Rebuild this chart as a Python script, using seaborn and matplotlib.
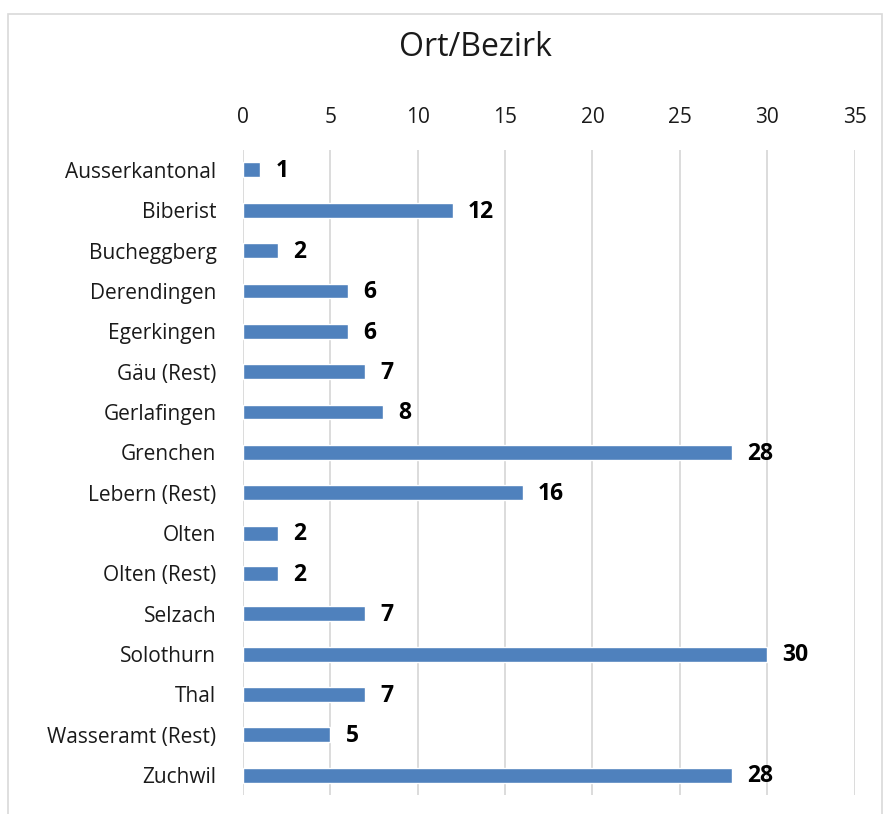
import matplotlib
matplotlib.use("Agg")
import matplotlib.pyplot as plt
import seaborn as sns
import pandas as pd

orte = ["Ausserkantonal", "Biberist", "Bucheggberg", "Derendingen", "Egerkingen",
        "Gäu (Rest)", "Gerlafingen", "Grenchen", "Lebern (Rest)", "Olten",
        "Olten (Rest)", "Selzach", "Solothurn", "Thal", "Wasseramt (Rest)", "Zuchwil"]
anzahl = [1, 12, 2, 6, 6, 7, 8, 28, 16, 2, 2, 7, 30, 7, 5, 28]
x_ticks = [0, 5, 10, 15, 20, 25, 30, 35]

df = pd.DataFrame({"ort": orte, "anzahl": anzahl})

sns.set_style("white")
plt.rcParams["font.family"] = ["Open Sans", "DejaVu Sans"]

fig = plt.figure(figsize=(8.83, 8.14), dpi=100)
ax = fig.add_axes([0.275, 0.023, 0.693, 0.793])

sns.barplot(data=df, x="anzahl", y="ort", color="#4F81BD", saturation=1,
            width=0.37, ax=ax)

ax.set_xlim(0, 35)
ax.set_xticks(x_ticks)
ax.xaxis.tick_top()
ax.tick_params(axis="both", length=0, labelsize=15, colors="#1a1a1a")
ax.tick_params(axis="y", pad=19)
ax.tick_params(axis="x", pad=16)
ax.grid(axis="x", color="#D9D9D9", linewidth=1.3)
ax.set_axisbelow(True)
for s in ax.spines.values():
    s.set_visible(False)
ax.set_xlabel("")
ax.set_ylabel("")

for i, v in enumerate(anzahl):
    ax.annotate(str(v), xy=(v, i), xytext=(11, -1), textcoords="offset points",
                va="center", ha="left", fontsize=16.5, fontweight="bold", color="black")

fig.text(0.538, 0.942, "Ort/Bezirk", ha="center", va="center", fontsize=23, color="#1a1a1a")

border = plt.Rectangle((0.009, -0.01), 0.99, 0.993, transform=fig.transFigure,
                       fill=False, edgecolor="#D9D9D9", linewidth=1.2)
fig.patches.append(border)

fig.savefig("out.png", dpi=100)
